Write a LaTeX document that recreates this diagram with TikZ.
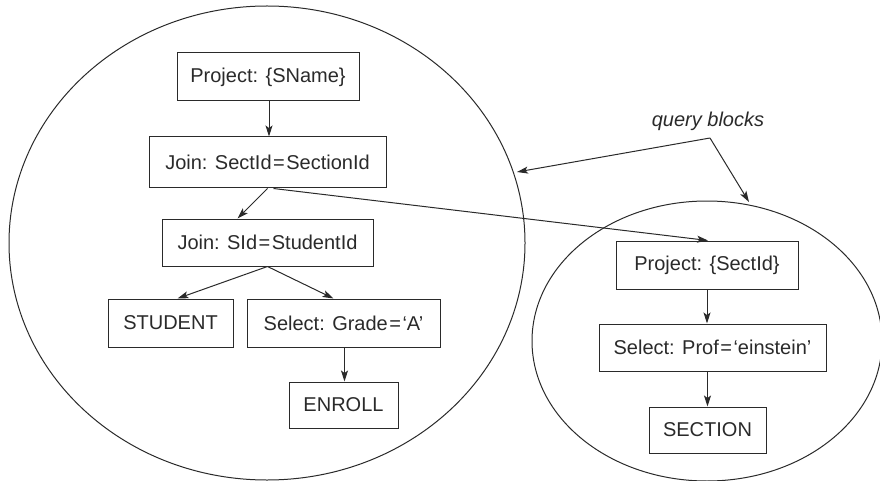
\documentclass[tikz,border=0pt]{standalone}
\usepackage{fontspec}
\setmainfont{Liberation Sans}
\usetikzlibrary{arrows.meta,calc}
\definecolor{ink}{HTML}{2A2A2A}
\tikzset{
  opbox/.style={draw=ink, line width=1pt, rectangle, inner sep=0pt, text=ink, font=\fontsize{20}{24}\selectfont},
  conn/.style={draw=ink, line width=1pt, -{Stealth[length=11pt,width=7pt,inset=2.5pt]}},
  blob/.style={draw=ink, line width=1pt},
}
\newcommand{\eqs}{\hspace{1.5pt}=\hspace{1.5pt}}
\begin{document}
\begin{tikzpicture}[x=1pt,y=-1pt]
\useasboundingbox (0,0) rectangle (880,481);
\clip (0,0) rectangle (880,481);
% query blocks (ellipses)
\draw[blob] (267,243) ellipse [x radius=258, y radius=237];
\draw[blob] (707,341) ellipse [x radius=175, y radius=140];
% left block
\node[opbox, minimum width=182pt, minimum height=48pt] (p1) at (268,77) {Project: \{SName\}};
\node[opbox, minimum width=237pt, minimum height=51pt] (j1) at (267.5,162.5) {Join: SectId\eqs SectionId};
\node[opbox, minimum width=211pt, minimum height=47pt] (j2) at (267.5,242.5) {Join: SId\eqs StudentId};
\node[opbox, minimum width=125pt, minimum height=48pt] (st) at (170.5,323) {STUDENT};
\node[opbox, minimum width=193pt, minimum height=48pt] (sg) at (343.5,323) {Select: Grade\eqs ‘A’};
\node[opbox, minimum width=109pt, minimum height=46pt] (en) at (343.5,405) {ENROLL};
% right block
\node[opbox, minimum width=182pt, minimum height=48pt] (p2) at (707,265) {Project: \{SectId\}};
\node[opbox, minimum width=227pt, minimum height=47pt] (sp) at (712.5,347.5) {Select: Prof\eqs ‘einstein’};
\node[opbox, minimum width=117pt, minimum height=46pt] (sc) at (707.5,430) {SECTION};
% label
\node[text=ink, font=\fontsize{20}{24}\selectfont\itshape, inner sep=0pt] (qb) at (708,121) {query blocks};
\coordinate (qa) at (710,138);
\coordinate (e1) at (517,172);
\coordinate (e2) at (749,202);
% connectors
\draw[conn] ([xshift=1pt]p1.south) -- ([xshift=1.5pt]j1.north);
\draw[conn] ([xshift=0pt]j1.south) -- ([xshift=-30pt]j2.north);
\draw[conn] ([xshift=6pt]j1.south) -- ([xshift=1pt]p2.north);
\draw[conn] (j2.south) -- ([xshift=7pt]st.north);
\draw[conn] (j2.south) -- ([xshift=-10pt]sg.north);
\draw[conn] ([xshift=1pt]sg.south) -- ([xshift=1pt]en.north);
\draw[conn] (p2.south) -- (p2.south |- sp.north);
\draw[conn] (sc.north |- sp.south) -- (sc.north);
\draw[conn] (qa) -- (e1);
\draw[conn] (qa) -- (e2);
\end{tikzpicture}
\end{document}
